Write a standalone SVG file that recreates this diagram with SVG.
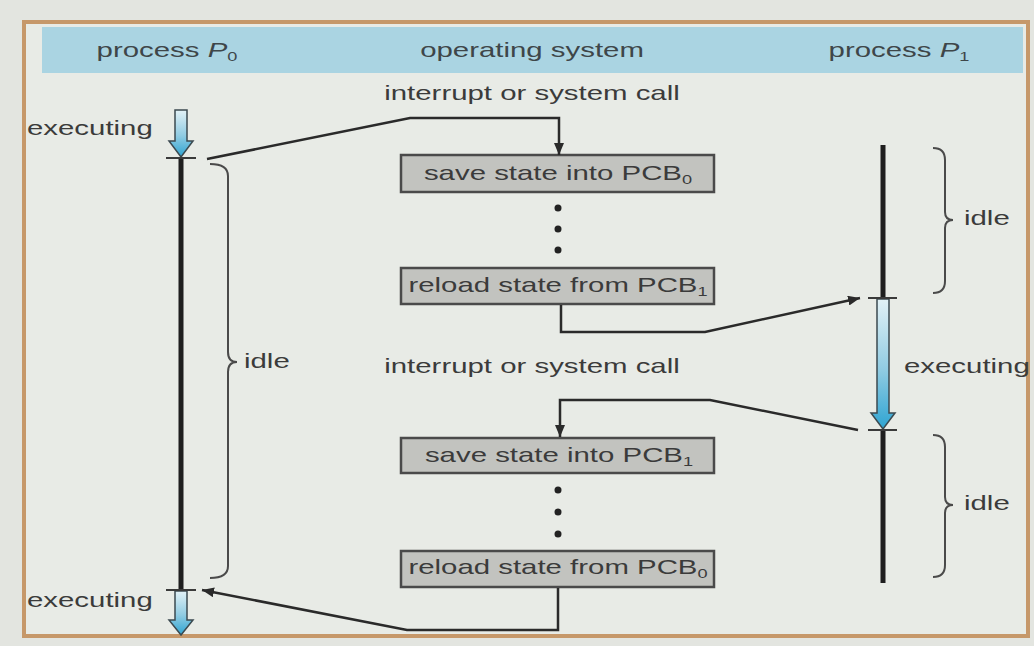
<svg xmlns="http://www.w3.org/2000/svg" width="1034" height="646" viewBox="0 0 1034 646">
<style>
.t{font-family:"Liberation Sans",Arial,sans-serif;font-size:21px;fill:#3b3b3b}
.h{fill:#3e4649}
.box{fill:#c2c3bf;stroke:#4a4a4a;stroke-width:2.5}
.conn{fill:none;stroke:#2a2a2a;stroke-width:2.5;stroke-linejoin:miter}
.tl{stroke:#1e1e1e;stroke-width:5}
.tick{stroke:#3a3a3a;stroke-width:2}
.brace{fill:none;stroke:#4a4a4a;stroke-width:2}
.barrow{fill:url(#blue);stroke:#3b4a50;stroke-width:1.5}
.dot{fill:#222}
</style>
<defs>
<linearGradient id="blue" x1="0" y1="0" x2="0" y2="1">
<stop offset="0" stop-color="#e2f1f6"/>
<stop offset="0.55" stop-color="#8fcbe2"/>
<stop offset="1" stop-color="#2ea4d2"/>
</linearGradient>
<marker id="ah" markerWidth="12" markerHeight="10" refX="12" refY="5" orient="auto" markerUnits="userSpaceOnUse">
<path d="M0,0 L12,5 L0,10 Z" fill="#2a2a2a"/>
</marker>
</defs>
<rect x="0" y="0" width="1034" height="646" fill="#e3e5e0"/>
<rect id="frame" x="24" y="22" width="1004" height="614" fill="#e8ebe6" stroke="#c6986a" stroke-width="4"/>
<g id="header">
<rect x="42" y="27" width="981" height="46" fill="#aad4e2"/>
<text class="t h" transform="translate(167,57) scale(1.4,1)" text-anchor="middle">process <tspan font-style="italic">P</tspan><tspan font-size="13" dy="4">0</tspan></text>
<text class="t h" transform="translate(532,57) scale(1.4,1)" text-anchor="middle">operating system</text>
<text class="t h" transform="translate(899,57) scale(1.4,1)" text-anchor="middle">process <tspan font-style="italic">P</tspan><tspan font-size="13" dy="4">1</tspan></text>
</g>
<g id="p0">
<line class="tl" x1="181" y1="158" x2="181" y2="590"/>
<path class="barrow" d="M175,110 L187,110 L187,141 L193,141 L181,157 L169,141 L175,141 Z"/>
<path class="barrow" d="M175,591 L187,591 L187,620 L193,620 L181,635 L169,620 L175,620 Z"/>
<line class="tick" x1="166" y1="158" x2="196" y2="158"/>
<line class="tick" x1="166" y1="590" x2="196" y2="590"/>
<path class="brace" d="M210,164 Q228,164 228,176 L228,352 Q228,362 237,362 Q228,362 228,372 L228,566 Q228,578 210,578"/>
<text class="t" transform="translate(27,135) scale(1.4,1)">executing</text>
<text class="t" transform="translate(27,607) scale(1.4,1)">executing</text>
<text class="t" transform="translate(244,368) scale(1.4,1)">idle</text>
</g>
<g id="p1">
<line class="tl" x1="883" y1="145" x2="883" y2="298"/>
<line class="tl" x1="883" y1="430" x2="883" y2="583"/>
<path class="barrow" d="M877,299 L889,299 L889,413 L895,413 L883,429 L871,413 L877,413 Z"/>
<line class="tick" x1="868" y1="298" x2="897" y2="298"/>
<line class="tick" x1="868" y1="430" x2="897" y2="430"/>
<path class="brace" d="M933,148 Q945,148 945,160 L945,212 Q945,220 953,220 Q945,220 945,228 L945,281 Q945,293 933,293"/>
<path class="brace" d="M933,435 Q945,435 945,447 L945,497 Q945,505 953,505 Q945,505 945,513 L945,565 Q945,577 933,577"/>
<text class="t" transform="translate(964,225) scale(1.4,1)">idle</text>
<text class="t" transform="translate(904,373) scale(1.4,1)">executing</text>
<text class="t" transform="translate(964,510) scale(1.4,1)">idle</text>
</g>
<g id="os-labels">
<text class="t" transform="translate(532,100) scale(1.4,1)" text-anchor="middle">interrupt or system call</text>
<text class="t" transform="translate(532,373) scale(1.4,1)" text-anchor="middle">interrupt or system call</text>
</g>
<g id="box-save0">
<rect class="box" x="401" y="155" width="313" height="37"/>
<text class="t" transform="translate(558,180) scale(1.4,1)" text-anchor="middle">save state into PCB<tspan font-size="13" dy="4">0</tspan></text>
</g>
<g id="dots1">
<circle class="dot" cx="558" cy="208" r="3.5"/>
<circle class="dot" cx="558" cy="229" r="3.5"/>
<circle class="dot" cx="558" cy="250" r="3.5"/>
</g>
<g id="box-reload1">
<rect class="box" x="401" y="268" width="313" height="36"/>
<text class="t" transform="translate(558,292) scale(1.4,1)" text-anchor="middle">reload state from PCB<tspan font-size="13" dy="4">1</tspan></text>
</g>
<g id="box-save1">
<rect class="box" x="401" y="438" width="313" height="35"/>
<text class="t" transform="translate(559,462) scale(1.4,1)" text-anchor="middle">save state into PCB<tspan font-size="13" dy="4">1</tspan></text>
</g>
<g id="dots2">
<circle class="dot" cx="558" cy="490" r="3.5"/>
<circle class="dot" cx="558" cy="512" r="3.5"/>
<circle class="dot" cx="558" cy="534" r="3.5"/>
</g>
<g id="box-reload0">
<rect class="box" x="401" y="551" width="313" height="36"/>
<text class="t" transform="translate(558,574) scale(1.4,1)" text-anchor="middle">reload state from PCB<tspan font-size="13" dy="4">0</tspan></text>
</g>
<g id="connectors">
<path class="conn" d="M207,159 L410,118 L559,118 L559,155" marker-end="url(#ah)"/>
<path class="conn" d="M561,305 L561,332 L705,332 L860,298" marker-end="url(#ah)"/>
<path class="conn" d="M858,430 L710,400 L560,400 L560,437" marker-end="url(#ah)"/>
<path class="conn" d="M558,588 L558,630 L407,630 L202,590" marker-end="url(#ah)"/>
</g>
</svg>
